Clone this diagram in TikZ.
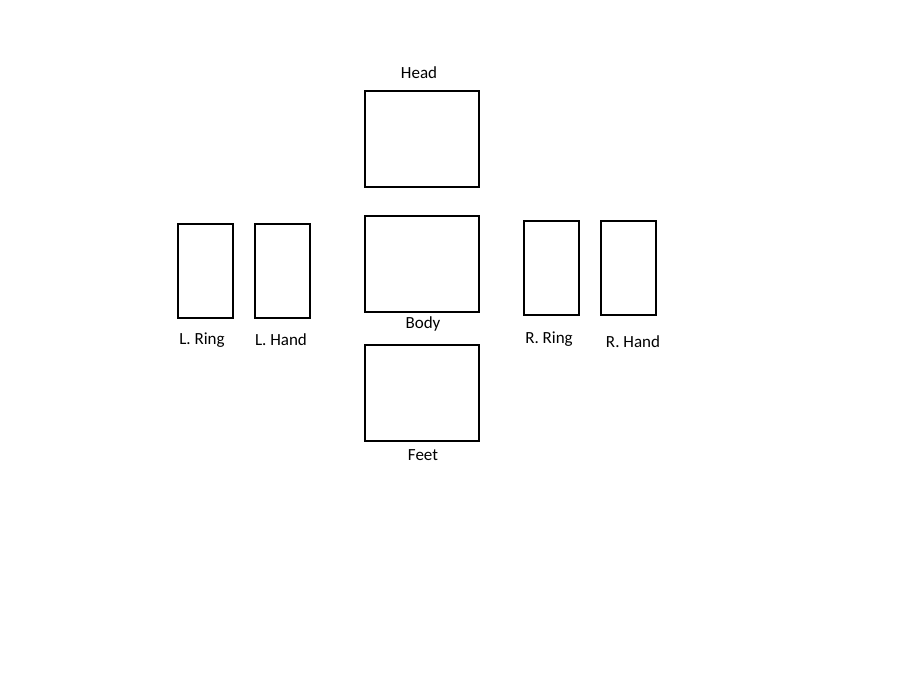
\documentclass[tikz,border=0pt]{standalone}
\usepackage{fontspec}
\setmainfont{Carlito}
\begin{document}
\begin{tikzpicture}[x=1pt,y=-1pt,
  part/.style={draw=black,line width=2pt,inner sep=0pt,outer sep=0pt,fill=white},
  big/.style={part,minimum width=114pt,minimum height=96pt},
  small/.style={part,minimum width=55pt,minimum height=94pt},
  lbl/.style={inner sep=0pt,font=\fontsize{17}{20}\selectfont}]
\useasboundingbox[fill=white] (0,0) rectangle (917,688);
\node[big] (head) at (422,139) {};
\node[big] (body) at (422,264) {};
\node[big] (feet) at (422,393) {};
\node[small] (lring) at (205.5,271) {};
\node[small] (lhand) at (282.5,271) {};
\node[small] (rring) at (551.5,268) {};
\node[small] (rhand) at (628.5,268) {};
\node[lbl] (headl) at (419,73) {Head};
\node[lbl] (bodyl) at (423,324) {Body};
\node[lbl] (feetl) at (423,455) {Feet};
\node[lbl] (lringl) at (202,340) {L. Ring};
\node[lbl] (lhandl) at (281,340) {L. Hand};
\node[lbl] (rringl) at (549,339) {R. Ring};
\node[lbl] (rhandl) at (633,342) {R. Hand};
\end{tikzpicture}
\end{document}
